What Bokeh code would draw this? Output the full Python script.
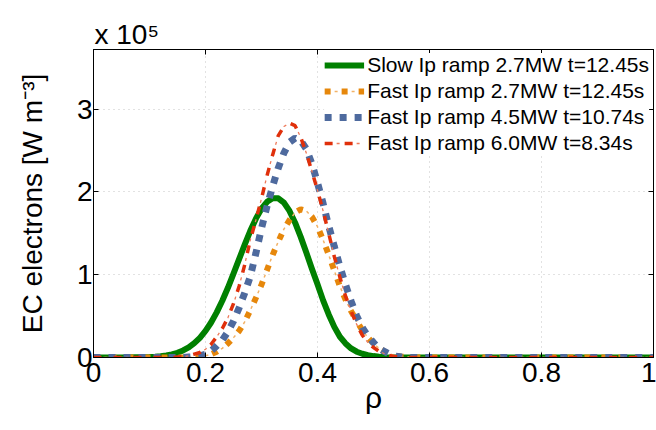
from bokeh.plotting import figure
from bokeh.models import (Range1d, FixedTicker, LinearAxis, Legend, LegendItem, Title)
from bokeh.embed import file_html
from bokeh.resources import INLINE

# ---------------- data ----------------
rho = [0.0, 0.05,
       0.10, 0.11, 0.12, 0.13, 0.14, 0.15, 0.16, 0.17, 0.18, 0.19,
       0.20, 0.21, 0.22, 0.23, 0.24, 0.25, 0.26, 0.27, 0.28, 0.29,
       0.30, 0.31, 0.32, 0.33, 0.34, 0.35, 0.36, 0.37, 0.38, 0.39,
       0.40, 0.41, 0.42, 0.43, 0.44, 0.45, 0.46, 0.47, 0.48, 0.49,
       0.50, 0.51, 0.52, 0.53, 0.54, 0.55, 0.56, 0.57,
       0.60, 0.70, 0.80, 0.90, 1.00]

slow_27 = [0, 0,
           0.006, 0.010, 0.016, 0.025, 0.038, 0.057, 0.085, 0.122, 0.173, 0.238,
           0.321, 0.423, 0.545, 0.685, 0.842, 1.012, 1.188, 1.364, 1.530, 1.677,
           1.797, 1.881, 1.924, 1.923, 1.871, 1.770, 1.628, 1.457, 1.268, 1.073,
           0.884, 0.69, 0.52, 0.37, 0.25, 0.17, 0.11, 0.07, 0.045, 0.028,
           0.017, 0.009, 0.004, 0.001, 0, 0, 0, 0,
           0, 0, 0, 0, 0]
fast_27 = [0, 0,
           0, 0, 0, 0, 0, 0, 0, 0.002, 0.005, 0.01,
           0.02, 0.04, 0.07, 0.11, 0.17, 0.24, 0.32, 0.43, 0.57, 0.72,
           0.88, 1.06, 1.24, 1.40, 1.55, 1.66, 1.75, 1.79, 1.77, 1.70,
           1.58, 1.42, 1.24, 1.05, 0.86, 0.70, 0.56, 0.44, 0.33, 0.24,
           0.17, 0.11, 0.07, 0.04, 0.02, 0.01, 0.005, 0,
           0, 0, 0, 0, 0]
fast_45 = [0, 0,
           0, 0, 0, 0, 0, 0, 0, 0.005, 0.01, 0.02,
           0.04, 0.08, 0.14, 0.21, 0.31, 0.44, 0.60, 0.78, 0.98, 1.26,
           1.56, 1.83, 2.07, 2.29, 2.47, 2.60, 2.65, 2.62, 2.52, 2.34,
           2.11, 1.86, 1.59, 1.34, 1.10, 0.88, 0.68, 0.50, 0.36, 0.26,
           0.18, 0.11, 0.07, 0.035, 0.015, 0.005, 0, 0,
           0, 0, 0, 0, 0]
fast_60 = [0, 0,
           0, 0, 0, 0, 0, 0.005, 0.01, 0.02, 0.04, 0.06,
           0.10, 0.16, 0.25, 0.35, 0.48, 0.65, 0.86, 1.12, 1.42, 1.66,
           1.92, 2.20, 2.45, 2.68, 2.79, 2.83, 2.80, 2.66, 2.47, 2.25,
           2.02, 1.77, 1.50, 1.22, 0.97, 0.74, 0.56, 0.40, 0.27, 0.18,
           0.12, 0.075, 0.045, 0.02, 0.01, 0.003, 0, 0,
           0, 0, 0, 0, 0]

labels = ["Slow Ip ramp 2.7MW t=12.45s",
          "Fast Ip ramp 2.7MW t=12.45s",
          "Fast Ip ramp 4.5MW t=10.74s",
          "Fast Ip ramp 6.0MW t=8.34s"]

x_ticks = [0, 0.2, 0.4, 0.6, 0.8, 1.0]
x_tick_labels = ["0", "0.2", "0.4", "0.6", "0.8", "1"]
y_ticks = [0, 1, 2, 3]
y_tick_labels = ["0", "1", "2", "3"]
y_scale_text = "x 10⁵"

FONT = "Liberation Sans"
Y_MAX = 3.72

# ---------------- figure ----------------
p = figure(width=656, height=430, output_backend="svg", toolbar_location=None,
           x_range=Range1d(0, 1), y_range=Range1d(0, Y_MAX),
           min_border_left=93, min_border_right=3, min_border_top=49,
           min_border_bottom=73)
p.background_fill_color = "white"
p.border_fill_color = "white"
p.outline_line_color = "black"
p.outline_line_width = 1

for ax in (p.xaxis[0], p.yaxis[0]):
    ax.major_tick_in = 5
    ax.major_tick_out = 0
    ax.minor_tick_in = 0
    ax.minor_tick_out = 0
    ax.axis_line_color = "black"
    ax.major_tick_line_color = "black"
    ax.major_label_text_font = FONT
    ax.major_label_text_font_size = "28px"
    ax.major_label_text_color = "black"
    ax.axis_label_text_font = FONT
    ax.axis_label_text_font_style = "normal"
    ax.axis_label_text_color = "black"

p.xaxis[0].ticker = FixedTicker(ticks=x_ticks)
p.xaxis[0].major_label_overrides = {t: l for t, l in zip(x_ticks, x_tick_labels)}
p.xaxis[0].major_label_standoff = 5
p.xaxis[0].axis_label = "ρ"
p.xaxis[0].axis_label_text_font_size = "30px"
p.xaxis[0].axis_label_standoff = -4

p.yaxis[0].ticker = FixedTicker(ticks=y_ticks)
p.yaxis[0].major_label_overrides = {t: l for t, l in zip(y_ticks, y_tick_labels)}
p.yaxis[0].major_label_standoff = 1
p.yaxis[0].axis_label = "EC electrons [W m⁻³]"
p.yaxis[0].axis_label_text_font_size = "28px"
p.yaxis[0].axis_label_standoff = 26

# box ticks on top and right
top_ax = LinearAxis(ticker=FixedTicker(ticks=x_ticks), major_tick_in=5, major_tick_out=0,
                    minor_tick_in=0, minor_tick_out=0, major_label_text_font_size="0px",
                    major_label_standoff=0, axis_line_color="black")
top_ax.major_label_overrides = {t: "" for t in x_ticks}
right_ax = LinearAxis(ticker=FixedTicker(ticks=y_ticks), major_tick_in=5, major_tick_out=0,
                      minor_tick_in=0, minor_tick_out=0, major_label_text_font_size="0px",
                      major_label_standoff=0, axis_line_color="black")
right_ax.major_label_overrides = {t: "" for t in y_ticks}
p.add_layout(top_ax, "above")
p.add_layout(right_ax, "right")

# "x 10^5" multiplier above the top-left corner
scale_title = Title(text=y_scale_text, align="left", offset=1, standoff=0,
                    text_font=FONT, text_font_size="28px", text_font_style="normal",
                    text_color="black")
p.add_layout(scale_title, "above")

p.xgrid.ticker = FixedTicker(ticks=x_ticks[1:-1])
p.ygrid.ticker = FixedTicker(ticks=y_ticks[1:])
for g in (p.xgrid[0], p.ygrid[0]):
    g.grid_line_color = "#c4c4c4"
    g.grid_line_dash = "1 4"
    g.grid_line_width = 1

# ---------------- lines ----------------
GREEN = "#008000"
ORANGE = "#E6870B"
ORANGE_L = "#F2B267"
BLUE = "#4E6A9E"
RED = "#E0300B"

r_g = p.line(rho, slow_27, line_color=GREEN, line_width=6, line_join="round")
r_o1 = p.line(rho, fast_27, line_color=ORANGE, line_width=6, line_dash="6 11",
              line_cap="butt")
r_o2 = p.line(rho, fast_27, line_color=ORANGE_L, line_width=1.5, line_dash="0 10 3 4")
r_b = p.line(rho, fast_45, line_color=BLUE, line_width=7, line_dash="7 8", line_cap="butt")
r_r1 = p.line(rho, fast_60, line_color=RED, line_width=3.5, line_dash="8 12", line_cap="butt")
r_r2 = p.line(rho, fast_60, line_color="#EE7A5A", line_width=1.3, line_dash="0 12 3 5")

legend = Legend(items=[
    LegendItem(label=labels[0], renderers=[r_g]),
    LegendItem(label=labels[1], renderers=[r_o1, r_o2]),
    LegendItem(label=labels[2], renderers=[r_b]),
    LegendItem(label=labels[3], renderers=[r_r1, r_r2]),
], location="top_right")
legend.label_text_font = FONT
legend.label_text_font_size = "21px"
legend.label_text_color = "black"
legend.glyph_width = 40
legend.glyph_height = 20
legend.label_height = 20
legend.label_standoff = 3
legend.spacing = 2
legend.padding = 6
legend.margin = 4
legend.border_line_color = None
legend.background_fill_color = "white"
legend.background_fill_alpha = 1
p.add_layout(legend, "center")

open("out.html", "w").write(file_html(p, INLINE))
